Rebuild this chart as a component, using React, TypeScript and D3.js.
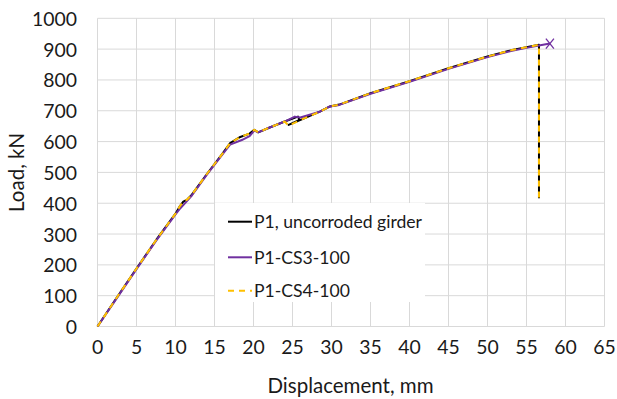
import React from "react";
import * as d3 from "d3";

const xTicks = [0, 5, 10, 15, 20, 25, 30, 35, 40, 45, 50, 55, 60, 65];
const yTicks = [0, 100, 200, 300, 400, 500, 600, 700, 800, 900, 1000];

const seriesNames = ["P1, uncorroded girder", "P1-CS3-100", "P1-CS4-100"];

const p1Uncorroded: [number, number][] = [
  [0, 0], [2.5, 95], [5, 188], [7.5, 280], [10, 366], [10.5, 388], [11, 405], [11.5, 412],
  [12.1, 428], [14, 494], [16, 560], [17, 595], [18.3, 615], [19.5, 626], [20.1, 638],
  [20.6, 630], [22, 645], [24.0, 665], [25.7, 681], [25.9, 670], [24.5, 654], [26.2, 672],
  [28.5, 697], [29.8, 714], [31, 720], [35, 757], [40, 796], [45, 838], [50, 876],
  [53, 896], [55, 906], [56.6, 914], [56.6, 416],
];

const p1Cs3: [number, number][] = [
  [0, 0], [2.5, 93], [5, 186], [7.5, 278], [10, 364], [10.5, 380], [11, 394], [12.1, 425],
  [14, 492], [16, 558], [17, 590], [18.5, 605], [19.5, 618], [20.1, 636], [20.6, 630],
  [22, 645], [24.0, 665], [25.3, 681], [26.0, 678], [28.5, 697], [29.8, 714], [31, 719],
  [35, 755], [40, 794], [45, 836], [50, 874], [53, 894], [55, 904], [56.6, 912], [58.0, 918],
];

const p1Cs4: [number, number][] = [
  [0, 0], [2.5, 95], [5, 188], [7.5, 280], [10, 366], [10.5, 388], [11, 405], [11.5, 412],
  [12.1, 428], [14, 494], [16, 560], [17, 595], [18.3, 615], [19.5, 626], [20.1, 638],
  [20.6, 630], [22, 645], [24.0, 665], [24.5, 652], [26.2, 672], [28.5, 697], [29.8, 714],
  [31, 720], [35, 757], [40, 796], [45, 838], [50, 876], [53, 896], [55, 906],
  [56.6, 914], [56.6, 416],
];

const colors = ["#000000", "#7030a0", "#ffc000"];

export default function App() {
  const W = 617, H = 399;
  const x = d3.scaleLinear().domain([0, 65]).range([97.5, 604.5]);
  const y = d3.scaleLinear().domain([0, 1000]).range([326.5, 18.3]);
  const line = d3.line<[number, number]>().x(d => x(d[0])).y(d => y(d[1]));
  const font = "Lato, 'Open Sans', sans-serif";
  const textColor = "#1a1a1a";
  const last = p1Cs3[p1Cs3.length - 1];
  const mx = x(last[0]), my = y(last[1]);
  const legendY = [221.7, 257.3, 290.7];

  return (
    <svg width={W} height={H} style={{ position: "absolute", left: 0, top: 0 }}>
      <rect x={0} y={0} width={W} height={H} fill="#fff" />
      {xTicks.map(t => (
        <line key={"gx" + t} x1={x(t)} x2={x(t)} y1={y(0)} y2={y(1000)} stroke="#d9d9d9" strokeWidth={1} />
      ))}
      {yTicks.map(t => (
        <line key={"gy" + t} x1={x(0)} x2={x(65)} y1={y(t)} y2={y(t)} stroke="#d9d9d9" strokeWidth={1} />
      ))}
      {xTicks.map(t => (
        <text key={"tx" + t} x={x(t)} y={346.5} textAnchor="middle" dominantBaseline="central"
          fontFamily={font} fontSize={19.4} fill={textColor}>{t}</text>
      ))}
      {yTicks.map(t => (
        <text key={"ty" + t} x={77} y={y(t)} textAnchor="end" dominantBaseline="central"
          fontFamily={font} fontSize={19.4} fill={textColor}>{t}</text>
      ))}
      <text x={350.5} y={385} textAnchor="middle" dominantBaseline="central" fontFamily={font}
        fontSize={20.5} fill={textColor}>Displacement, mm</text>
      <text transform={`translate(16,172.4) rotate(-90)`} textAnchor="middle" dominantBaseline="central"
        fontFamily={font} fontSize={20.5} fill={textColor}>Load, kN</text>

      <path d={line(p1Uncorroded) || ""} fill="none" stroke={colors[0]} strokeWidth={2} strokeLinejoin="round" />
      <path d={line(p1Cs3) || ""} fill="none" stroke={colors[1]} strokeWidth={2} strokeLinejoin="round" />
      <path d={line(p1Cs4) || ""} fill="none" stroke={colors[2]} strokeWidth={2} strokeDasharray="6,5" strokeLinejoin="round" />
      <g stroke={colors[1]} strokeWidth={1.3}>
        <line x1={mx - 4} y1={my - 5} x2={mx + 4} y2={my + 5} />
        <line x1={mx - 4} y1={my + 5} x2={mx + 4} y2={my - 5} />
      </g>

      <rect x={215} y={203} width={210} height={99} fill="#fff" />
      {seriesNames.map((n, i) => (
        <g key={n}>
          <line x1={228} x2={252} y1={legendY[i]} y2={legendY[i]} stroke={colors[i]} strokeWidth={2}
            strokeDasharray={i === 2 ? "6,5" : undefined} />
          <text x={254} y={legendY[i]} dominantBaseline="central" fontFamily={font} fontSize={17.6}
            fill={textColor}>{n}</text>
        </g>
      ))}
    </svg>
  );
}
